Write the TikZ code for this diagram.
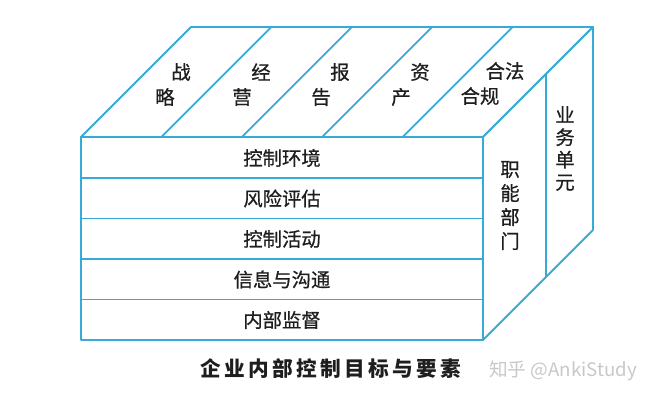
\documentclass[tikz,border=0pt]{standalone}
\usepackage{fontspec}
\newfontfamily\cjk{Noto Sans CJK SC}
\newfontfamily\cjkm[FakeBold=0.7]{Noto Sans CJK SC}
\definecolor{edge}{RGB}{56,170,216}
\definecolor{wm}{RGB}{200,200,200}
\definecolor{ink}{RGB}{30,30,30}
\tikzset{
  face/.style={draw=edge, line width=1.4pt, line join=round, fill=white},
  divider/.style={draw=edge, line width=1.3pt},
  lbl/.style={font=\cjkm\fontsize{14.5}{17}\selectfont, text=ink, inner sep=0pt},
  vlbl/.style={lbl, align=center},
  title/.style={font=\cjk\bfseries\fontsize{15.5}{18}\selectfont\addfontfeature{LetterSpace=16}, text=ink, inner sep=0pt},
  wmark/.style={font=\cjk\fontsize{14}{17}\selectfont, text=wm, inner sep=0pt}
}
\begin{document}
\begin{tikzpicture}[x=0.75pt,y=-0.75pt]
\useasboundingbox (0,0) rectangle (660,407);
% corners
\coordinate (ftl) at (81,137);
\coordinate (ftr) at (483,137);
\coordinate (fbr) at (483,340);
\coordinate (fbl) at (81,340);
\coordinate (btl) at (191,27);
\coordinate (btr) at (593,27);
\coordinate (bbr) at (593,230);
% top face
\draw[face] (ftl) -- (btl) -- (btr) -- (ftr) -- cycle;
\foreach \k in {1,2,3,4} {
  \draw[divider] ({81+80.4*\k},137) -- ({191+80.4*\k},27);
}
% right face
\draw[face] (ftr) -- (btr) -- (bbr) -- (fbr) -- cycle;
\coordinate (rit) at (546,74);
\coordinate (rib) at (546,277);
\draw[divider] (rit) -- (rib);
% front face
\draw[face] (ftl) rectangle (fbr);
\foreach \y in {178,218.5,259,299.5} {
  \draw[divider] (81,\y) -- (483,\y);
}
% front labels
\node[lbl] (r1) at (282,158) {控制环境};
\node[lbl] (r2) at (282,198.5) {风险评估};
\node[lbl] (r3) at (282,239) {控制活动};
\node[lbl] (r4) at (282,279.5) {信息与沟通};
\node[lbl] (r5) at (282,320) {内部监督};
% top labels
\node[lbl] (t1a) at (181,72) {战};
\node[lbl] (t1b) at (165,97) {略};
\node[lbl] (t2a) at (261,72) {经};
\node[lbl] (t2b) at (242,97) {营};
\node[lbl] (t3a) at (340,72) {报};
\node[lbl] (t3b) at (321,97) {告};
\node[lbl] (t4a) at (420,72) {资};
\node[lbl] (t4b) at (401,97) {产};
\node[lbl] (t5a) at (505,71) {合法};
\node[lbl] (t5b) at (480,96) {合规};
% right labels
\node[vlbl, font=\cjkm\fontsize{14.5}{18}\selectfont] (s1) at (510,205.5) {职\\能\\部\\门};
\node[vlbl, font=\cjkm\fontsize{14.5}{16.8}\selectfont] (s2) at (565,148.5) {业\\务\\单\\元};
% caption
\node[title] (cap) at (331,369) {企业内部控制目标与要素};
\node[wmark] (wm) at (563,371) {知乎 @AnkiStudy};
\end{tikzpicture}
\end{document}
